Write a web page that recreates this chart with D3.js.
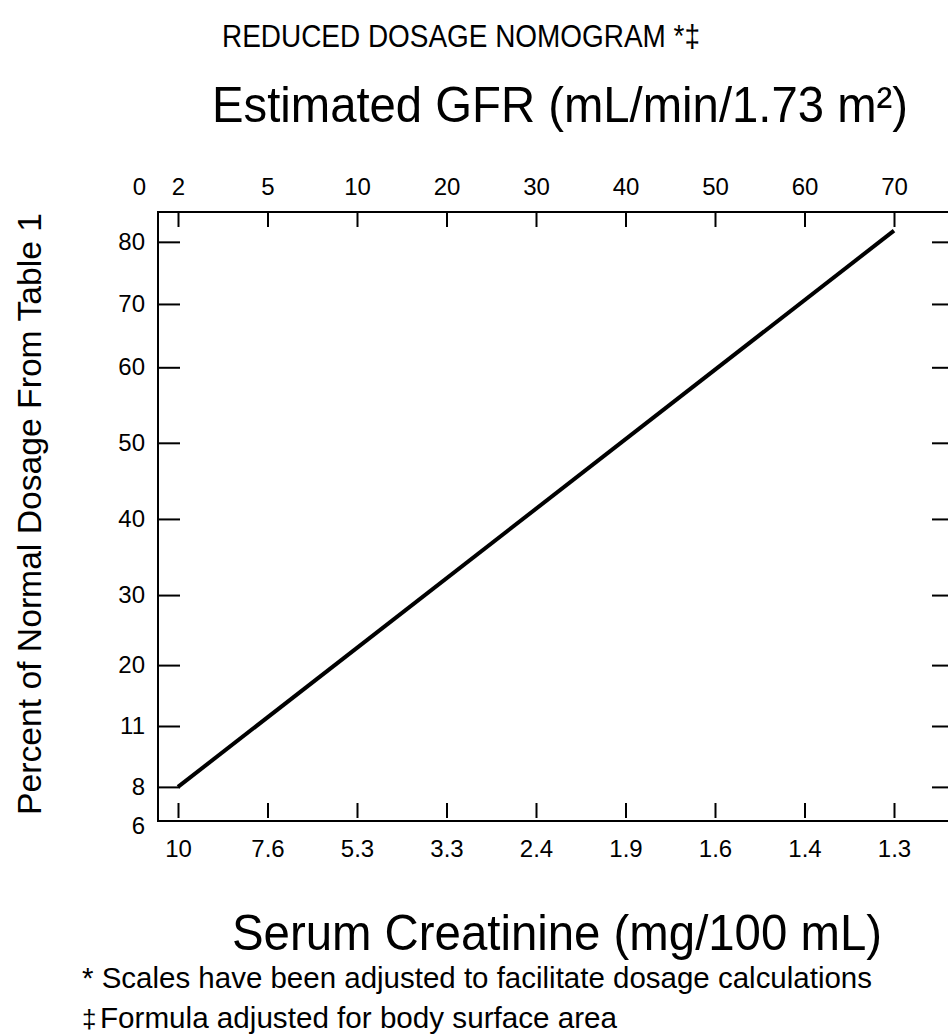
<!DOCTYPE html>
<html>
<head>
<meta charset="utf-8">
<script src="https://cdn.jsdelivr.net/npm/d3@7"></script>
<style>
  html, body { margin: 0; padding: 0; background: #fff; }
  svg text { font-family: "Liberation Sans", Arial, sans-serif; fill: #000; }
</style>
</head>
<body>
<div id="wrapper"></div>
<script>
// top scale: estimated GFR, first value is the corner label
const gfrTicks = [0, 2, 5, 10, 20, 30, 40, 50, 60, 70]
// bottom scale: serum creatinine, same positions as the GFR ticks
const creatinineTicks = [10, 7.6, 5.3, 3.3, 2.4, 1.9, 1.6, 1.4, 1.3]
// left scale: percent of normal dosage, first value is the corner label
const percentTicks = [6, 8, 11, 20, 30, 40, 50, 60, 70, 80]
// the nomogram line (GFR -> percent)
const lineGfr = [2, 70]
const linePercent = [8, 81.8]

function drawNomogram() {
  let dimensions = {
    width: 948,
    height: 1034,
    margin: {
      top: 212,
      right: -6,
      bottom: 213,
      left: 158,
    },
  }
  dimensions.boundedWidth = dimensions.width
    - dimensions.margin.left
    - dimensions.margin.right
  dimensions.boundedHeight = dimensions.height
    - dimensions.margin.top
    - dimensions.margin.bottom

  const wrapper = d3.select("#wrapper")
    .append("svg")
      .attr("width", dimensions.width)
      .attr("height", dimensions.height)

  const bounds = wrapper.append("g")
      .attr("transform", `translate(${dimensions.margin.left},${dimensions.margin.top})`)

  // the x scales are evenly spaced, GFR and creatinine share the positions
  const xGfr = d3.scalePoint()
      .domain(gfrTicks.slice(1))
      .range([20, dimensions.boundedWidth - 60])
  const xCreat = d3.scalePoint()
      .domain(creatinineTicks)
      .range(xGfr.range())

  // hand spaced nomogram scale for the percent axis
  // (share of the plot height where each tick sits)
  const percentStops = [0, 0.056, 0.156, 0.256, 0.371, 0.496, 0.621, 0.745, 0.849, 0.951]
  const yScale = d3.scaleLinear()
      .domain(percentTicks)
      .range(percentStops.map(f => dimensions.boundedHeight * (1 - f)))

  // frame
  bounds.append("rect")
      .attr("width", dimensions.boundedWidth)
      .attr("height", dimensions.boundedHeight)
      .attr("fill", "none")
      .attr("stroke", "#000")
      .attr("stroke-width", 2)

  // top axis
  const topAxis = bounds.append("g")
      .call(d3.axisTop(xGfr).tickSizeInner(-15).tickSizeOuter(0).tickPadding(17))
  topAxis.select(".domain").remove()
  topAxis.append("text")
      .attr("class", "corner")
      .attr("x", -12)
      .attr("y", -17)
      .attr("text-anchor", "end")
      .text(gfrTicks[0])

  // bottom axis
  const bottomAxis = bounds.append("g")
      .attr("transform", `translate(0,${dimensions.boundedHeight})`)
      .call(d3.axisBottom(xCreat).tickSizeInner(-15).tickSizeOuter(0).tickPadding(19))
  bottomAxis.select(".domain").remove()
  bottomAxis.selectAll(".tick line")
      .attr("y1", -3)
      .attr("y2", -18)

  // left axis
  const leftAxis = bounds.append("g")
      .call(d3.axisLeft(yScale).tickValues(percentTicks).tickSizeInner(-22).tickSizeOuter(0).tickPadding(13))
  leftAxis.select(".domain").remove()
  leftAxis.selectAll(".tick")
      .filter(d => d === percentTicks[0])
      .select("line").remove()
  leftAxis.selectAll(".tick")
      .filter(d => d === percentTicks[0])
      .select("text").attr("dy", "0.52em")

  // right axis, ticks only
  const rightAxis = bounds.append("g")
      .attr("transform", `translate(${dimensions.boundedWidth},0)`)
      .call(d3.axisRight(yScale).tickValues(percentTicks.slice(1)).tickSizeInner(-22).tickSizeOuter(0).tickFormat(""))
  rightAxis.select(".domain").remove()

  wrapper.selectAll(".tick line")
      .attr("stroke", "#000")
      .attr("stroke-width", 2)
  wrapper.selectAll(".tick text, .corner")
      .attr("fill", "#000")
      .attr("font-size", null)
      .style("font-size", "24px")
      .style("font-family", "'Liberation Sans', Arial, sans-serif")
  topAxis.attr("font-size", null)
  bottomAxis.attr("font-size", null)
  leftAxis.attr("font-size", null)

  // nomogram line
  const lineData = lineGfr.map((g, i) => ({ gfr: g, percent: linePercent[i] }))
  const lineGenerator = d3.line()
      .x(d => xGfr(d.gfr))
      .y(d => yScale(d.percent))
  bounds.append("path")
      .attr("d", lineGenerator(lineData))
      .attr("fill", "none")
      .attr("stroke", "#000")
      .attr("stroke-width", 4)

  // titles, the source text is a little condensed so fit the widths
  const addText = (x, y, size, len, txt, anchor = "start") => wrapper.append("text")
      .attr("x", x)
      .attr("y", y)
      .attr("text-anchor", anchor)
      .attr("textLength", len)
      .attr("lengthAdjust", "spacingAndGlyphs")
      .style("font-size", size + "px")
      .text(txt)

  addText(222, 47, 32, 478, "REDUCED DOSAGE NOMOGRAM *\u2021")
  addText(212, 122, 50, 696, "Estimated GFR (mL/min/1.73 m\u00b2)")
  addText(232, 950, 50, 650, "Serum Creatinine (mg/100 mL)")

  wrapper.append("text")
      .attr("transform", `translate(41,514) rotate(-90)`)
      .attr("text-anchor", "middle")
      .attr("textLength", 602)
      .attr("lengthAdjust", "spacingAndGlyphs")
      .style("font-size", "34px")
      .text("Percent of Normal Dosage From Table 1")

  // footnotes
  addText(82, 988, 30, 790, "* Scales have been adjusted to facilitate dosage calculations")
  wrapper.append("text")
      .attr("x", 82)
      .attr("y", 1028)
      .style("font-size", "26px")
      .text("\u2021")
  addText(100, 1028, 30, 517, "Formula adjusted for body surface area")
}
drawNomogram()
</script>
</body>
</html>
